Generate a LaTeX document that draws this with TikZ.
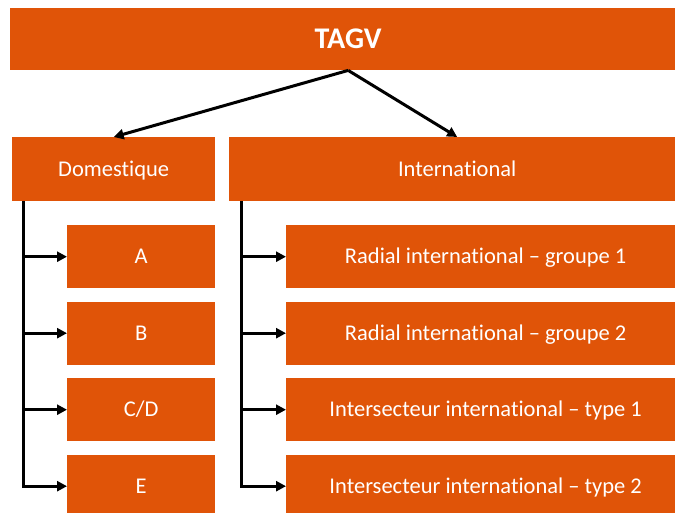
\documentclass[tikz,border=0pt]{standalone}
\usepackage{fontspec}
\setmainfont{Carlito}[Ligatures={NoCommon}]
\usetikzlibrary{arrows.meta,calc}
\definecolor{boxorange}{RGB}{224,84,8}
\begin{document}
\begin{tikzpicture}[x=1pt,y=-1pt,
  box/.style={fill=boxorange, text=white, inner sep=0pt, anchor=north west,
    text height=14.4pt, text depth=0pt,
    font=\fontsize{22.5}{26}\selectfont},
  conn/.style={line width=3pt, -{Triangle[length=10pt,width=10pt]}},
  trunk/.style={line width=3pt}]
\useasboundingbox (0,0) rectangle (675,513);
\clip (0,0) rectangle (675,513);

% root
\node[box, minimum width=676pt, minimum height=62pt, text height=19.2pt,
  font=\fontsize{30}{34}\selectfont\bfseries] (tagv) at (10,8) {TAGV};

% second level
\node[box, minimum width=203pt, minimum height=64pt] (dom) at (12,137) {Domestique};
\node[box, minimum width=456pt, minimum height=64pt] (intl) at (229,137) {International};

% domestic categories
\node[box, minimum width=148pt, minimum height=63pt] (a)  at (67,225)   {A};
\node[box, minimum width=148pt, minimum height=63pt] (b)  at (67,301.5) {B};
\node[box, minimum width=148pt, minimum height=63pt] (cd) at (67,378)   {C/D};
\node[box, minimum width=148pt, minimum height=63pt] (e)  at (67,454.5) {E};

% international categories
\node[box, minimum width=399pt, minimum height=63pt] (r1) at (286,225)   {Radial international – groupe 1};
\node[box, minimum width=399pt, minimum height=63pt] (r2) at (286,301.5) {Radial international – groupe 2};
\node[box, minimum width=399pt, minimum height=63pt] (i1) at (286,378)   {Intersecteur international – type 1};
\node[box, minimum width=399pt, minimum height=63pt] (i2) at (286,454.5) {Intersecteur international – type 2};

% root to second level
\draw[conn] (tagv.south) -- (dom.north);
\draw[conn] (tagv.south) -- (intl.north);

% trunks
\coordinate (dt) at ($(dom.south west)+(11,0)$);
\coordinate (it) at ($(intl.south west)+(12.5,0)$);
\draw[trunk] (dt) -- (dt |- e.west);
\draw[trunk] (it) -- (it |- i2.west);

% branches
\foreach \n in {a,b,cd,e} \draw[conn] (dt) |- (\n.west);
\foreach \n in {r1,r2,i1,i2} \draw[conn] (it) |- (\n.west);
\end{tikzpicture}
\end{document}
